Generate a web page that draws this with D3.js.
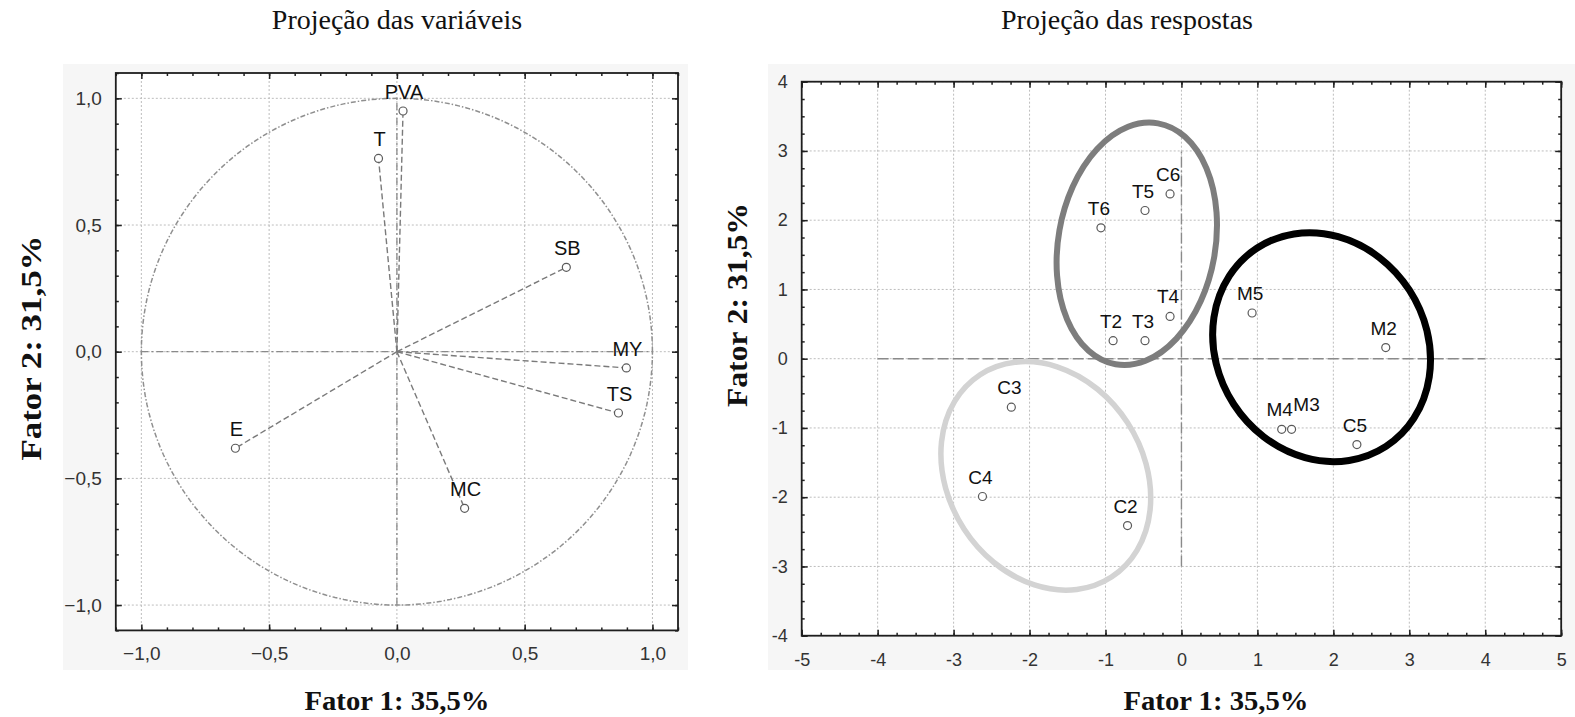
<!DOCTYPE html>
<html><head><meta charset="utf-8">
<script src="https://cdn.jsdelivr.net/npm/d3@7"></script>
<style>
html,body{margin:0;padding:0;background:#fff;}
svg{display:block;}
</style></head>
<body>
<script>
// ---------- DATA ----------
// Left panel: projection of variables (loadings on factor 1 / factor 2)
const varNames = ["PVA", "T", "SB", "MY", "TS", "E", "MC"];
const varF1    = [0.024, -0.072, 0.663, 0.898, 0.867, -0.632, 0.265];
const varF2    = [0.950,  0.763, 0.333, -0.064, -0.242, -0.381, -0.618];
const leftTicks = [-1.0, -0.5, 0.0, 0.5, 1.0];

// Right panel: projection of responses (scores)
const obsNames = ["T6", "T5", "C6", "T2", "T3", "T4", "M5", "M2", "M4", "M3", "C5", "C3", "C4", "C2"];
const obsF1    = [-1.06, -0.48, -0.15, -0.90, -0.48, -0.15, 0.93, 2.69, 1.32, 1.45, 2.31, -2.24, -2.62, -0.71];
const obsF2    = [ 1.89,  2.14,  2.38,  0.26,  0.26,  0.61, 0.66, 0.16, -1.02, -1.02, -1.24, -0.70, -1.99, -2.41];
const rightTicksX = [-5, -4, -3, -2, -1, 0, 1, 2, 3, 4, 5];
const rightTicksY = [-4, -3, -2, -1, 0, 1, 2, 3, 4];

// Group ellipses (centre and semi-axes in factor units, tilt in degrees)
const groupNames = ["T", "M", "C"];
const groupCX    = [-0.588, 1.845, -1.786];
const groupCY    = [ 1.659, 0.166, -1.692];
const groupRX    = [ 1.034, 1.379,  1.284];
const groupRY    = [ 1.766, 1.708,  1.742];
const groupTilt  = [ 10, -33, -33];

const titles = ["Projeção das variáveis", "Projeção das respostas"];
const xTitle = "Fator 1: 35,5%";
const yTitle = "Fator 2: 31,5%";

// ---------- STYLE ----------
const SANS = "'Liberation Sans', Arial, Helvetica, sans-serif";
const SERIF = "'Liberation Serif', 'Times New Roman', Times, serif";
const groupStyle = { T: {stroke: "#7d7d7d", w: 6}, M: {stroke: "#000", w: 7}, C: {stroke: "#d3d3d3", w: 5.5} };
const labelNudge = { M3: [17, -5] };

const W = 1575, H = 717;
const svg = d3.select("body").append("svg").attr("width", W).attr("height", H);
svg.append("rect").attr("width", W).attr("height", H).attr("fill", "#fff");

const comma = v => d3.format(".1f")(v).replace(".", ",");

// ---------- helpers ----------
function panel(xs, ys, opts) {
  const g = svg.append("g");
  const [x0, x1] = xs.range(), [y0, y1] = ys.range(); // y0 bottom, y1 top
  g.append("rect").attr("x", opts.bg[0]).attr("y", opts.bg[1]).attr("width", opts.bg[2]).attr("height", opts.bg[3]).attr("fill", "#f6f6f6");
  g.append("rect").attr("x", x0).attr("y", y1).attr("width", x1 - x0).attr("height", y0 - y1).attr("fill", "#fff");
  // grid
  g.append("g").selectAll("line").data(opts.ticksX).join("line")
    .attr("x1", d => xs(d)).attr("x2", d => xs(d)).attr("y1", y1).attr("y2", y0)
    .attr("stroke", "#bdbdbd").attr("stroke-width", 1).attr("stroke-dasharray", "2,2");
  g.append("g").selectAll("line").data(opts.ticksY).join("line")
    .attr("y1", d => ys(d)).attr("y2", d => ys(d)).attr("x1", x0).attr("x2", x1)
    .attr("stroke", "#bdbdbd").attr("stroke-width", 1).attr("stroke-dasharray", "2,2");
  // axes
  const fmt = opts.fmt;
  const mk = (axisFn, scale, vals, size, pos, labels, pad) => {
    const a = axisFn(scale).tickValues(vals).tickSize(size).tickPadding(pad || 0)
      .tickFormat(labels ? fmt : "");
    const ag = g.append("g").attr("transform", pos).call(a);
    ag.select(".domain").remove();
    ag.selectAll("line").attr("stroke", "#222").attr("stroke-width", 1.5);
    ag.selectAll("text").attr("font-family", SANS).attr("font-size", opts.fs).attr("fill", "#333");
    return ag;
  };
  mk(d3.axisBottom, xs, opts.ticksX, -6, `translate(0,${y0})`, true, opts.padX);
  mk(d3.axisBottom, xs, opts.minorX, -3, `translate(0,${y0})`, false);
  mk(d3.axisTop, xs, opts.ticksX, -6, `translate(0,${y1})`, false);
  mk(d3.axisTop, xs, opts.minorX, -3, `translate(0,${y1})`, false);
  mk(d3.axisLeft, ys, opts.ticksY, -6, `translate(${x0},0)`, true, opts.padY);
  mk(d3.axisLeft, ys, opts.minorY, -3, `translate(${x0},0)`, false);
  mk(d3.axisRight, ys, opts.ticksY, -6, `translate(${x1},0)`, false);
  mk(d3.axisRight, ys, opts.minorY, -3, `translate(${x1},0)`, false);
  g.append("rect").attr("x", x0).attr("y", y1).attr("width", x1 - x0).attr("height", y0 - y1)
    .attr("fill", "none").attr("stroke", "#1e1e1e").attr("stroke-width", 1.8);
  return g;
}

function minors(a, b, step) {
  const out = [];
  const n = Math.round((b - a) / step);
  for (let i = 0; i <= n; i++) out.push(+(a + i * step).toFixed(4));
  return out;
}

// ---------- LEFT PANEL ----------
const xL = d3.scaleLinear().domain([-1.1, 1.1]).range([115.8, 678]);
const yL = d3.scaleLinear().domain([-1.1, 1.1]).range([630.4, 73]);
const gL = panel(xL, yL, {
  bg: [63, 64, 625, 606], ticksX: leftTicks, ticksY: leftTicks,
  minorX: minors(-1.1, 1.1, 0.1), minorY: minors(-1.1, 1.1, 0.1),
  fmt: comma, fs: 19, padX: 16, padY: 14
});
// zero lines
gL.append("line").attr("x1", xL(-1)).attr("x2", xL(1)).attr("y1", yL(0)).attr("y2", yL(0))
  .attr("stroke", "#8a8a8a").attr("stroke-width", 1.3).attr("stroke-dasharray", "7,3,2,3");
gL.append("line").attr("x1", xL(0)).attr("x2", xL(0)).attr("y1", yL(-1)).attr("y2", yL(1))
  .attr("stroke", "#8a8a8a").attr("stroke-width", 1.3).attr("stroke-dasharray", "7,3,2,3");
// unit circle
const angles = d3.range(0, 361, 2).map(a => a * Math.PI / 180);
gL.append("path")
  .attr("d", d3.line().x(a => xL(Math.cos(a))).y(a => yL(Math.sin(a)))(angles))
  .attr("fill", "none").attr("stroke", "#8f8f8f").attr("stroke-width", 1.5).attr("stroke-dasharray", "5,2,1.5,2");
// vectors
const vIdx = d3.range(varNames.length);
gL.append("g").selectAll("line").data(vIdx).join("line")
  .attr("x1", xL(0)).attr("y1", yL(0))
  .attr("x2", i => xL(varF1[i])).attr("y2", i => yL(varF2[i]))
  .attr("stroke", "#7a7a7a").attr("stroke-width", 1.4).attr("stroke-dasharray", "6,3");
gL.append("g").selectAll("circle").data(vIdx).join("circle")
  .attr("cx", i => xL(varF1[i])).attr("cy", i => yL(varF2[i])).attr("r", 4)
  .attr("fill", "#fff").attr("stroke", "#5a5a5a").attr("stroke-width", 1.2);
gL.append("g").selectAll("text").data(vIdx).join("text")
  .attr("x", i => xL(varF1[i]) + 1).attr("y", i => yL(varF2[i]) - 12)
  .attr("text-anchor", "middle").attr("font-family", SANS).attr("font-size", 20).attr("fill", "#111")
  .text(i => varNames[i]);

// ---------- RIGHT PANEL ----------
const xR = d3.scaleLinear().domain([-5, 5]).range([801.7, 1561.2]);
const yR = d3.scaleLinear().domain([-4, 4]).range([635.7, 81.7]);
const gR = panel(xR, yR, {
  bg: [768, 64, 807, 606], ticksX: rightTicksX, ticksY: rightTicksY,
  minorX: minors(-5, 5, 0.25), minorY: minors(-4, 4, 0.25),
  fmt: d => String(d), fs: 18, padX: 18, padY: 14
});
gR.append("line").attr("x1", xR(-4)).attr("x2", xR(4)).attr("y1", yR(0)).attr("y2", yR(0))
  .attr("stroke", "#8a8a8a").attr("stroke-width", 1.4).attr("stroke-dasharray", "11,4");
gR.append("line").attr("x1", xR(0)).attr("x2", xR(0)).attr("y1", yR(-3)).attr("y2", yR(3))
  .attr("stroke", "#8a8a8a").attr("stroke-width", 1.4).attr("stroke-dasharray", "11,3,2,3");
// ellipses
const eIdx = d3.range(groupNames.length);
gR.append("g").selectAll("ellipse").data(eIdx).join("ellipse")
  .attr("cx", 0).attr("cy", 0)
  .attr("rx", i => xR(groupRX[i]) - xR(0))
  .attr("ry", i => yR(0) - yR(groupRY[i]))
  .attr("transform", i => `translate(${xR(groupCX[i])},${yR(groupCY[i])}) rotate(${groupTilt[i]})`)
  .attr("fill", "none")
  .attr("stroke", i => groupStyle[groupNames[i]].stroke)
  .attr("stroke-width", i => groupStyle[groupNames[i]].w);
// points
const oIdx = d3.range(obsNames.length);
gR.append("g").selectAll("circle").data(oIdx).join("circle")
  .attr("cx", i => xR(obsF1[i])).attr("cy", i => yR(obsF2[i])).attr("r", 4)
  .attr("fill", "#fff").attr("stroke", "#5a5a5a").attr("stroke-width", 1.2);
gR.append("g").selectAll("text").data(oIdx).join("text")
  .attr("x", i => xR(obsF1[i]) - 2 + (labelNudge[obsNames[i]] || [0, 0])[0])
  .attr("y", i => yR(obsF2[i]) - 13 + (labelNudge[obsNames[i]] || [0, 0])[1])
  .attr("text-anchor", "middle").attr("font-family", SANS).attr("font-size", 19).attr("fill", "#111")
  .text(i => obsNames[i]);

// ---------- TITLES ----------
const tPos = [[397, 29], [1127, 29]];
svg.selectAll("text.title").data(titles).join("text").attr("class", "title")
  .attr("x", (d, i) => tPos[i][0]).attr("y", (d, i) => tPos[i][1])
  .attr("text-anchor", "middle").attr("font-family", SERIF).attr("font-size", 28).attr("fill", "#111")
  .text(d => d);

const xtPos = [[397, 710], [1216, 710]];
svg.selectAll("text.xt").data(xtPos).join("text").attr("class", "xt")
  .attr("x", d => d[0]).attr("y", d => d[1])
  .attr("text-anchor", "middle").attr("font-family", SERIF).attr("font-weight", "bold")
  .attr("font-size", 28).attr("textLength", 185).attr("lengthAdjust", "spacingAndGlyphs")
  .attr("fill", "#111").text(xTitle);

const ytPos = [[30, 348, 225], [736, 305, 204]];
svg.selectAll("text.yt").data(ytPos).join("text").attr("class", "yt")
  .attr("transform", d => `translate(${d[0]},${d[1]}) rotate(-90)`)
  .attr("dy", "0.35em")
  .attr("text-anchor", "middle").attr("font-family", SERIF).attr("font-weight", "bold")
  .attr("font-size", 30).attr("textLength", d => d[2]).attr("lengthAdjust", "spacingAndGlyphs")
  .attr("fill", "#111").text(yTitle);
</script>
</body></html>
